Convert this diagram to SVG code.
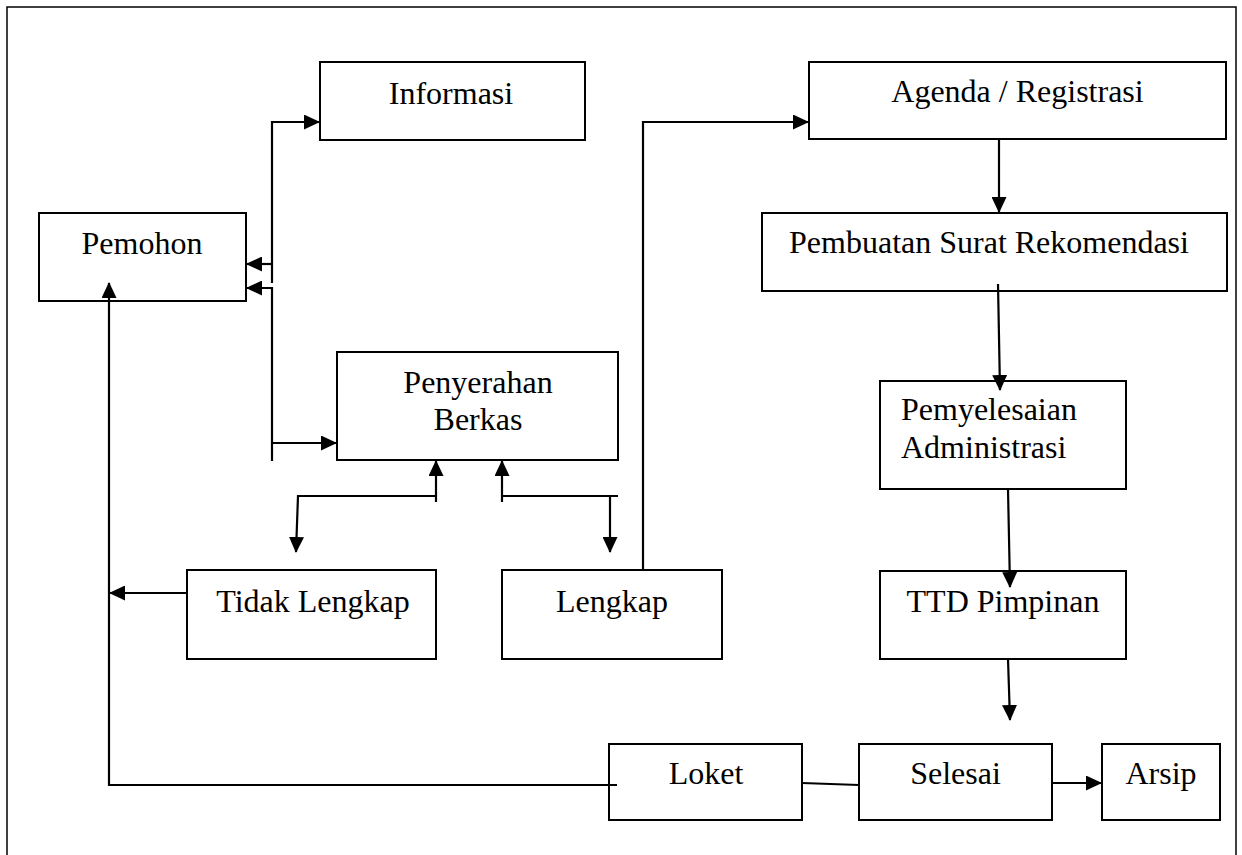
<svg xmlns="http://www.w3.org/2000/svg" width="1242" height="855" viewBox="0 0 1242 855">
<style>
.box{fill:#fff;stroke:#000;stroke-width:2}
.t{font-family:"Liberation Serif","Times New Roman",serif;font-size:32px;fill:#000;text-anchor:middle}
.ts{text-anchor:start}
.c{fill:none;stroke:#000;stroke-width:2.2}
.a{marker-end:url(#ah)}
</style>
<defs>
<marker id="ah" viewBox="0 0 16 15" markerWidth="16" markerHeight="15" refX="15" refY="7.5" orient="auto" markerUnits="userSpaceOnUse">
<path d="M0,0 L16,7.5 L0,15 z" fill="#000"/>
</marker>
</defs>
<rect width="1242" height="855" fill="#fff"/>
<path d="M7,855 V7 H1236 V855" fill="none" stroke="#000" stroke-width="1.5"/>
<g id="informasi"><rect class="box" x="320" y="62" width="265" height="78"/><text class="t" x="451" y="104">Informasi</text></g>
<g id="pemohon"><rect class="box" x="39" y="213" width="207" height="88"/><text class="t" x="142" y="254">Pemohon</text></g>
<g id="penyerahan"><rect class="box" x="337" y="352" width="281" height="108"/><text class="t" x="478" y="393">Penyerahan</text><text class="t" x="478" y="430">Berkas</text></g>
<g id="tidak-lengkap"><rect class="box" x="187" y="570" width="249" height="89"/><text class="t" x="313" y="612">Tidak Lengkap</text></g>
<g id="lengkap"><rect class="box" x="502" y="570" width="220" height="89"/><text class="t" x="612" y="612">Lengkap</text></g>
<g id="agenda"><rect class="box" x="809" y="62" width="417" height="77"/><text class="t" x="1017.5" y="102">Agenda / Registrasi</text></g>
<g id="pembuatan"><rect class="box" x="762" y="213" width="465" height="78"/><text class="t" x="989" y="253">Pembuatan Surat Rekomendasi</text></g>
<g id="pemyelesaian"><rect class="box" x="880" y="381" width="246" height="108"/><text class="t ts" x="901" y="420">Pemyelesaian</text><text class="t ts" x="901" y="458">Administrasi</text></g>
<g id="ttd"><rect class="box" x="880" y="571" width="246" height="88"/><text class="t" x="1003" y="612">TTD Pimpinan</text></g>
<g id="loket"><rect class="box" x="609" y="744" width="193" height="76"/><text class="t" x="706" y="784">Loket</text></g>
<g id="selesai"><rect class="box" x="859" y="744" width="193" height="76"/><text class="t" x="955.5" y="784">Selesai</text></g>
<g id="arsip"><rect class="box" x="1102" y="744" width="118" height="76"/><text class="t" x="1161" y="784">Arsip</text></g>
<g id="connectors">
<path class="c a" d="M272,283 V122 H319"/>
<path class="c a" d="M272,264 H247"/>
<path class="c a" d="M272,461 V288 H247"/>
<path class="c a" d="M272,443 H336"/>
<path class="c a" d="M436,502 V461"/>
<path class="c a" d="M436,496 H298 L296,552"/>
<path class="c a" d="M502,502 V461"/>
<path class="c" d="M502,496 H618"/>
<path class="c a" d="M610,496 V552"/>
<path class="c a" d="M643,570 V122 H808"/>
<path class="c a" d="M999,139 V212"/>
<path class="c a" d="M998,284 L1000,390"/>
<path class="c a" d="M1008,489 L1010,587"/>
<path class="c a" d="M1008,659 L1010,720"/>
<path class="c a" d="M1052,783 H1101"/>
<path class="c" d="M802,783 L859,785"/>
<path class="c a" d="M617,785 H109 V283"/>
<path class="c a" d="M187,593 H110"/>
</g>
</svg>
